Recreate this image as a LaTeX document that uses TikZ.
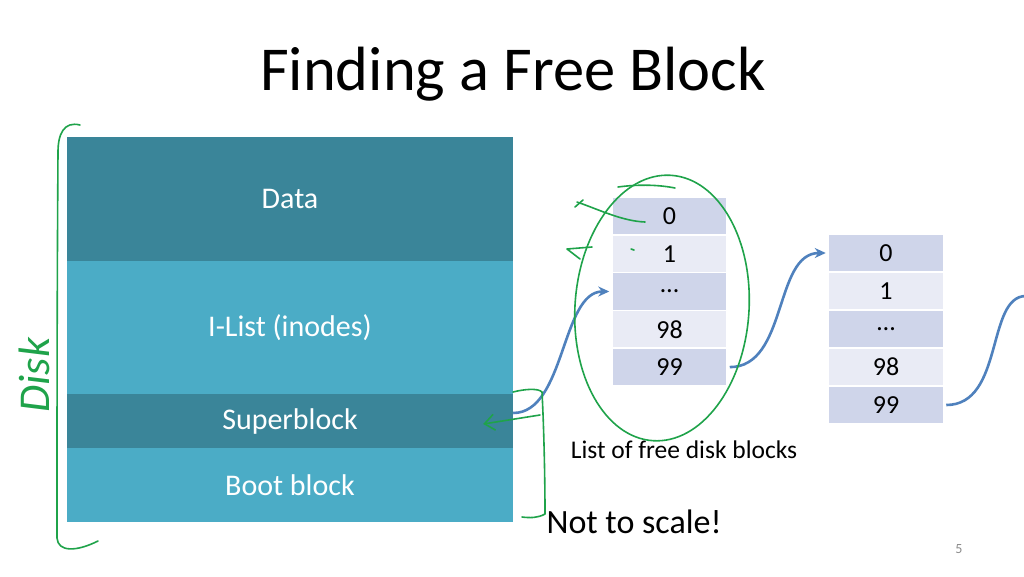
\documentclass[tikz,border=0pt]{standalone}
\usepackage{fontspec}
\setmainfont{Carlito}
\usepackage{xcolor}
\usepackage{tikz}
\usetikzlibrary{positioning, arrows.meta, shapes.geometric, calc}
\definecolor{diskDark}{HTML}{3A8599}
\definecolor{diskLight}{HTML}{4BACC6}
\definecolor{cellDark}{HTML}{CFD5EA}
\definecolor{cellLight}{HTML}{E9EBF5}
\definecolor{linkBlue}{HTML}{4F81BD}
\definecolor{penGreen}{HTML}{1FA34A}
\definecolor{pageNum}{HTML}{8C8C8C}
\tikzset{
  diskpart/.style={rectangle, draw=none, minimum width=446pt,
    text=white, inner sep=0pt, font=\fontsize{30}{34}\selectfont},
  cell/.style={rectangle, draw=white, line width=1.5pt,
    minimum width=115pt, minimum height=37.8pt, inner sep=0pt,
    font=\fontsize{26}{30}\selectfont},
  linkarrow/.style={-{Stealth[length=11pt, width=10pt]}, line width=2.6pt,
    linkBlue},
  pen/.style={penGreen, line width=1.6pt, line cap=round, line join=round},
}

\begin{document}
\begin{tikzpicture}[x=1pt, y=-1pt]
    \useasboundingbox (0,0) rectangle (1024,576);
    \fill[white] (0,0) rectangle (1024,576);

    % title
    \node[font=\fontsize{62.5}{72}\selectfont] (title) at (513,74)
      {Finding a Free Block};

    % disk layout
    \node[diskpart, fill=diskDark, minimum height=124pt] (data)
      at (290,199) {Data};
    \node[diskpart, fill=diskLight, minimum height=133pt] (ilist)
      at (290,327.5) {I-List (inodes)};
    \node[diskpart, fill=diskDark, minimum height=54pt] (superblk)
      at (290,421) {Superblock};
    \node[diskpart, fill=diskLight, minimum height=74pt] (boot)
      at (290,485) {Boot block};

    % first list of free blocks
    \node[cell, fill=cellDark] (fa0) at (669.5,215.9) {0};
    \node[cell, fill=cellLight] (fa1) at (669.5,253.7) {1};
    \node[cell, fill=cellDark] (fadots) at (669.5,291.5) {\dots};
    \node[cell, fill=cellLight] (fa98) at (669.5,329.3) {98};
    \node[cell, fill=cellDark] (fa99) at (669.5,367.1) {99};
    \node[font=\fontsize{25.5}{30}\selectfont] (falabel) at (684,450)
      {List of free disk blocks};

    % second list of free blocks
    \node[cell, fill=cellDark] (fb0) at (886,253) {0};
    \node[cell, fill=cellLight] (fb1) at (886,291) {1};
    \node[cell, fill=cellDark] (fbdots) at (886,329) {\dots};
    \node[cell, fill=cellLight] (fb98) at (886,367) {98};
    \node[cell, fill=cellDark] (fb99) at (886,405) {99};
    \coordinate (offslide) at (1026,296);

    % links
    \draw[linkarrow] ([yshift=8pt]superblk.east)
      .. controls +(52,0) and +(-48,0) .. ([xshift=-2pt]fadots.west);
    \draw[linkarrow] ([xshift=2pt]fa99.east)
      .. controls +(58,0) and +(-52,0) .. ([xshift=-2pt]fb0.west);
    \draw[linkBlue, line width=2.6pt] ([xshift=2pt]fb99.east)
      .. controls +(58,0) and +(-40,0) .. (offslide);

    % hand-written notes
    \node[pen, font=\fontsize{44}{50}\itshape, rotate=90] (disknote)
      at (34,375) {Disk};
    \draw[pen] (80,125) .. controls (64,121) and (58,134) .. (58,152)
      .. controls (57,300) and (57,420) .. (57,538)
      .. controls (58,552) and (76,552) .. (98,541);
    \draw[pen, rotate around={-4:(662,308)}] (662,308) ellipse (87 and 133);
    \draw[pen] (618,187) .. controls (640,184) and (660,185) .. (675,188);
    \draw[pen] (645,222) .. controls (622,221) and (600,210) .. (577,202);
    \draw[pen] (583,200) -- (575,207);
    \draw[pen] (592,247) -- (567,249) -- (580,259);
    \draw[pen] (631,249) -- (634,250);
    \draw[pen] (513,392) .. controls (525,389) and (538,388) .. (542,392)
      .. controls (544,430) and (545,480) .. (545,514)
      .. controls (538,518) and (530,518) .. (522,517);
    \draw[pen, -{Straight Barb[length=10pt, width=16pt]}] (540,415)
      -- ([xshift=-30pt,yshift=-3pt]superblk.east);
    \node[font=\fontsize{34}{40}\selectfont, anchor=west] (scalenote)
      at (543,522) {Not to scale!};

    % page number
    \node[pageNum, font=\fontsize{14}{16}\selectfont] (pagenum)
      at (959,549) {5};
\end{tikzpicture}
\end{document}
